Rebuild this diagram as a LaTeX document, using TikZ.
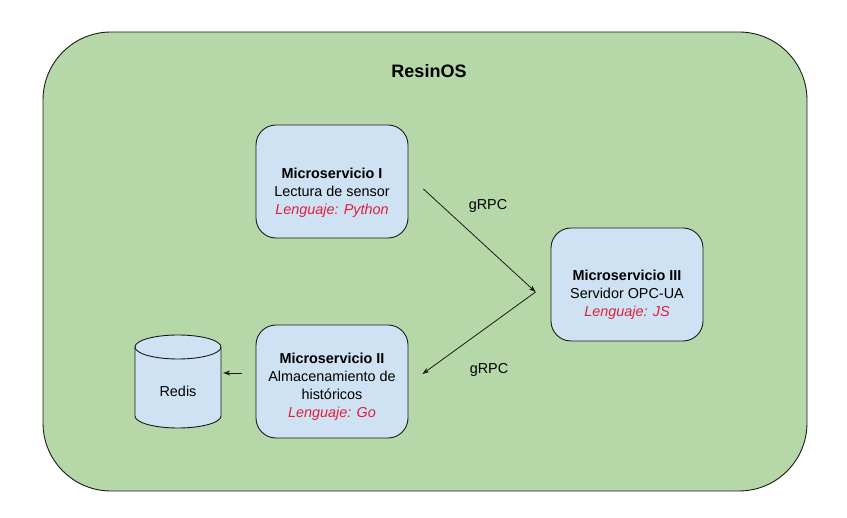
\documentclass[tikz,border=0pt]{standalone}
\usepackage{fontspec}
\setmainfont{Liberation Sans}
\usetikzlibrary{arrows.meta}
\definecolor{bggreen}{HTML}{B6D7A8}
\definecolor{boxblue}{HTML}{CFE2F3}
\definecolor{langred}{RGB}{226,30,60}
\definecolor{edge}{HTML}{1A1A1A}
\begin{document}
\begin{tikzpicture}[x=1pt,y=-1pt,
  svcbox/.style={draw=edge, line width=0.9pt, fill=boxblue, rounded corners=20pt,
    minimum width=152pt, minimum height=113pt, inner sep=0pt},
  svctext/.style={align=center, font=\fontsize{14.4}{18}\selectfont, inner sep=0pt},
  conn/.style={draw=edge, line width=0.8pt, -{Stealth[length=7pt,width=5pt]}},
  lbl/.style={font=\fontsize{14.4}{17}\selectfont, inner sep=0pt}]
\useasboundingbox (0,0) rectangle (847,518);
% outer container
\node[draw=edge, line width=0.9pt, fill=bggreen, rounded corners=68pt,
  minimum width=764pt, minimum height=459pt, inner sep=0pt] (os) at (425,261.5) {};
\node[font=\bfseries\fontsize{18}{20}\selectfont, inner sep=0pt] (title) at (429,71) {ResinOS};
% service boxes
\node[svcbox] (m1) at (332,181.5) {};
\node[svcbox] (m3) at (627,284.5) {};
\node[svcbox] (m2) at (332,381.5) {};
\node[svctext] (t1) at ([yshift=-11pt]m1.center) {\textbf{Microservicio I}\\Lectura de sensor\\\textcolor{langred}{\itshape Lenguaje: Python}};
\node[svctext] (t3) at ([yshift=-10pt]m3.center) {\textbf{Microservicio III}\\Servidor OPC-UA\\\textcolor{langred}{\itshape Lenguaje: JS}};
\node[svctext] (t2) at ([yshift=-5.5pt]m2.center) {\textbf{Microservicio II}\\Almacenamiento de\\históricos\\\textcolor{langred}{\itshape Lenguaje: Go}};
% Redis cylinder
\fill[boxblue] (135,347) -- (135,416) arc[start angle=180,end angle=0,x radius=43,y radius=12]
  -- (221,347) arc[start angle=0,end angle=-180,x radius=43,y radius=12] -- cycle;
\draw[edge, line width=0.9pt] (135,347) -- (135,416) arc[start angle=180,end angle=0,x radius=43,y radius=12] -- (221,347);
\draw[edge, line width=0.9pt] (178,347) ellipse [x radius=43, y radius=12];
\node[minimum width=86pt, minimum height=93pt, inner sep=0pt] (redis) at (178,381.5) {};
\node[lbl] (redislbl) at ([yshift=-10pt]redis.center) {Redis};
% connectors
\coordinate (a1s) at ([xshift=15pt,yshift=-7.5pt]m1.east);
\coordinate (hub) at ([xshift=-15pt,yshift=-7.5pt]m3.west);
\coordinate (a2e) at ([xshift=14pt,yshift=7.5pt]m2.east);
\coordinate (a3s) at ([xshift=-14pt,yshift=8.5pt]m2.west);
\draw[conn] (a1s) -- (hub);
\draw[conn] (hub) -- (a2e);
\draw[conn, shorten >=2pt] (a3s) -- (a3s -| redis.east);
\node[lbl] (g1) at (488,206) {gRPC};
\node[lbl] (g2) at (489,370) {gRPC};
\end{tikzpicture}
\end{document}
